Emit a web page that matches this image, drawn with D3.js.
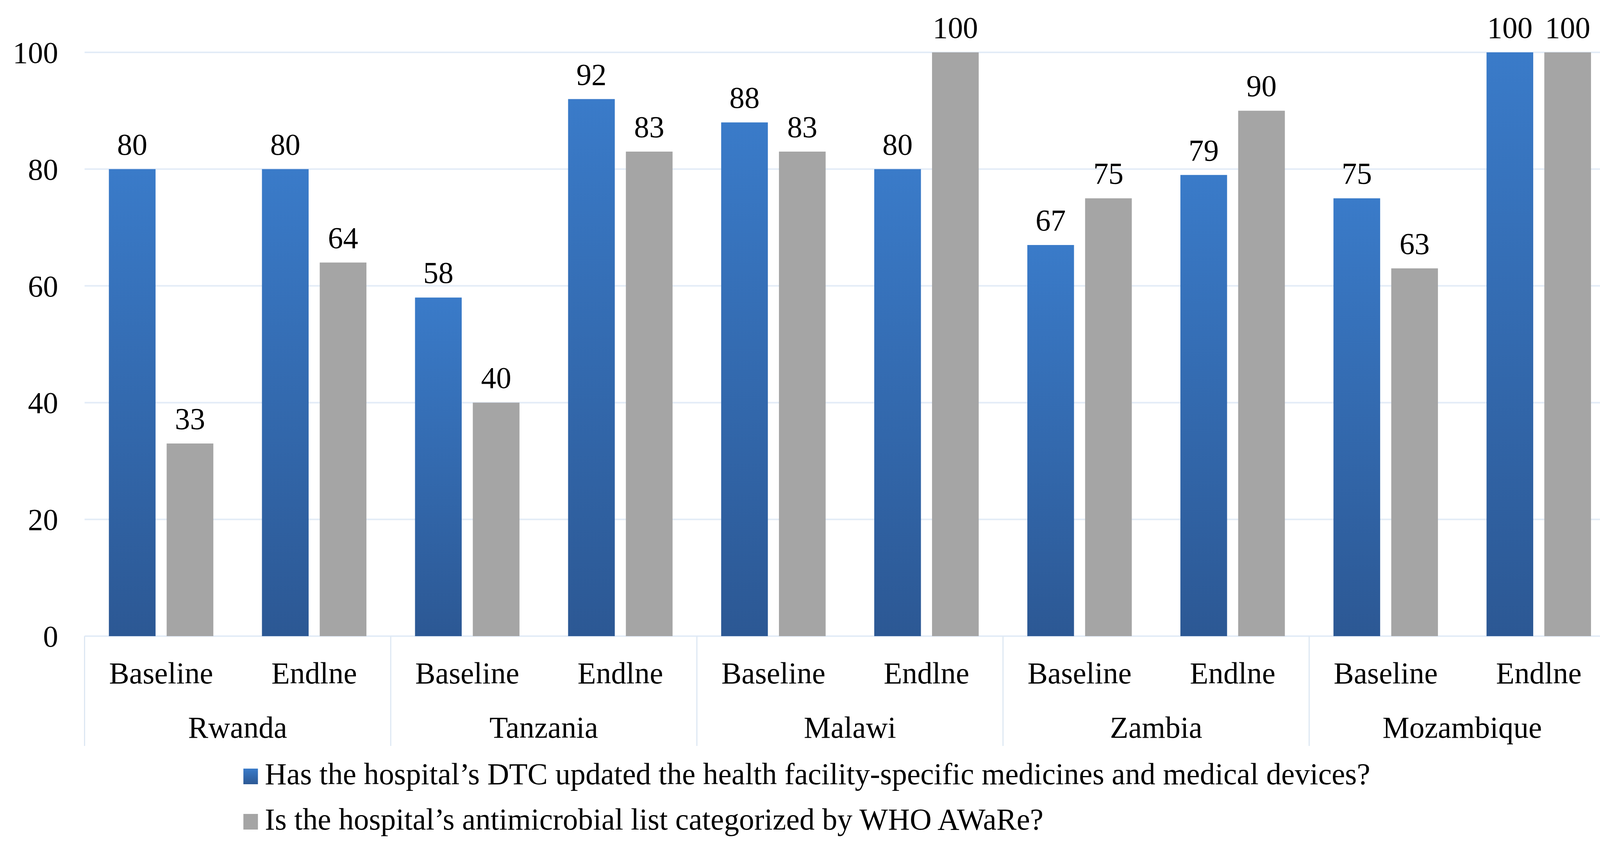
<!DOCTYPE html>
<html>
<head>
<meta charset="utf-8">
<script src="https://cdn.jsdelivr.net/npm/d3@7"></script>
<style>
	html, body { margin: 0; padding: 0; background: #fff; overflow: hidden; }
	#canvas { display: block; width: 100vw; height: 100vh; }
	text { font-family: "Liberation Serif", "Times New Roman", serif; fill: #000; }
</style>
</head>
<body>
<svg id="canvas" viewBox="0 0 4181 2183" preserveAspectRatio="none"></svg>
<script>
var countries = ["Rwanda", "Tanzania", "Malawi", "Zambia", "Mozambique"];
var phases = ["Baseline", "Endlne"];
var seriesNames = [
	"Has the hospital\u2019s DTC updated the health facility-specific medicines and medical devices?",
	"Is the hospital\u2019s antimicrobial list categorized by WHO AWaRe?"
];
// one value per country/phase, in order Rwanda Baseline, Rwanda Endlne, Tanzania Baseline ...
var dtcUpdated = [80, 80, 58, 92, 88, 80, 67, 79, 75, 100];
var awareList = [33, 64, 40, 83, 83, 100, 75, 90, 63, 100];
var yTicks = [0, 20, 40, 60, 80, 100];

var svg = d3.select("#canvas");
var plotLeft = 221, plotTop = 134, plotBottom = 1628;
var groupWidth = 800;
var fontSize = 79;

var rows = [];
countries.forEach(function(c, i){
	phases.forEach(function(p, j){
		var k = i * phases.length + j;
		rows.push({key: c + "|" + p, country: c, phase: p, values: [dtcUpdated[k], awareList[k]]});
	});
});

var x = d3.scaleBand()
	.domain(rows.map(function(d){ return d.key; }))
	.range([plotLeft, plotLeft + groupWidth * countries.length]);
var xCountry = d3.scaleBand()
	.domain(countries)
	.range([plotLeft, plotLeft + groupWidth * countries.length]);
var xSeries = d3.scaleBand()
	.domain([0, 1])
	.range([63.5, x.bandwidth() - 63.5])
	.paddingInner(0.192);
var y = d3.scaleLinear().domain([0, 100]).range([plotBottom, plotTop]);

var defs = svg.append("defs");
var grad = defs.append("linearGradient")
	.attr("id", "blueGrad")
	.attr("x1", 0).attr("y1", 0).attr("x2", 0).attr("y2", 1);
grad.append("stop").attr("offset", "0%").attr("stop-color", "#3a7bc9");
grad.append("stop").attr("offset", "100%").attr("stop-color", "#2c5894");
var fills = ["url(#blueGrad)", "#a5a5a5"];

// gridlines
svg.append("g")
	.selectAll("line")
	.data(yTicks)
	.enter()
	.append("line")
	.attr("x1", plotLeft)
	.attr("x2", 4181)
	.attr("y1", function(d){ return y(d); })
	.attr("y2", function(d){ return y(d); })
	.attr("style", "stroke: #e3ecf7; stroke-width: 4;");

// y tick labels
svg.append("g")
	.selectAll("text")
	.data(yTicks)
	.enter()
	.append("text")
	.attr("x", 152)
	.attr("y", function(d){ return y(d) + 27; })
	.attr("text-anchor", "end")
	.attr("font-size", fontSize)
	.text(function(d){ return d; });

// bars
var group = svg.append("g")
	.selectAll("g")
	.data(rows)
	.enter()
	.append("g")
	.attr("transform", function(d){ return "translate(" + x(d.key) + ",0)"; });

group.selectAll("rect")
	.data(function(d){ return d.values; })
	.enter()
	.append("rect")
	.attr("x", function(d, i){ return xSeries(i); })
	.attr("width", xSeries.bandwidth())
	.attr("y", function(d){ return y(d); })
	.attr("height", function(d){ return y(0) - y(d); })
	.attr("fill", function(d, i){ return fills[i]; });

group.selectAll("text")
	.data(function(d){ return d.values; })
	.enter()
	.append("text")
	.attr("x", function(d, i){ return xSeries(i) + xSeries.bandwidth() / 2; })
	.attr("y", function(d){ return y(d) - 37; })
	.attr("text-anchor", "middle")
	.attr("font-size", fontSize)
	.text(function(d){ return d; });

// category axis: separators, phase and country labels
var sepX = countries.map(function(c){ return xCountry(c); });
svg.append("g")
	.selectAll("line")
	.data(sepX)
	.enter()
	.append("line")
	.attr("x1", function(d){ return d; })
	.attr("x2", function(d){ return d; })
	.attr("y1", plotBottom)
	.attr("y2", 1909)
	.attr("style", "stroke: #dde7f3; stroke-width: 3;");

svg.append("g")
	.selectAll("text")
	.data(rows)
	.enter()
	.append("text")
	.attr("x", function(d){ return x(d.key) + x.bandwidth() / 2; })
	.attr("y", 1749)
	.attr("text-anchor", "middle")
	.attr("font-size", fontSize)
	.text(function(d){ return d.phase; });

svg.append("g")
	.selectAll("text")
	.data(countries)
	.enter()
	.append("text")
	.attr("x", function(d){ return xCountry(d) + xCountry.bandwidth() / 2; })
	.attr("y", 1888)
	.attr("text-anchor", "middle")
	.attr("font-size", fontSize)
	.text(function(d){ return d; });

// legend
var legend = svg.append("g")
	.selectAll("g")
	.data(seriesNames)
	.enter()
	.append("g")
	.attr("transform", function(d, i){ return "translate(636," + (2007 + i * 116) + ")"; });

legend.append("rect")
	.attr("x", 0)
	.attr("y", -40)
	.attr("width", 38)
	.attr("height", 40)
	.attr("fill", function(d, i){ return fills[i]; });

legend.append("text")
	.attr("x", 56)
	.attr("y", 0)
	.attr("font-size", fontSize)
	.text(function(d){ return d; });
</script>
</body>
</html>
